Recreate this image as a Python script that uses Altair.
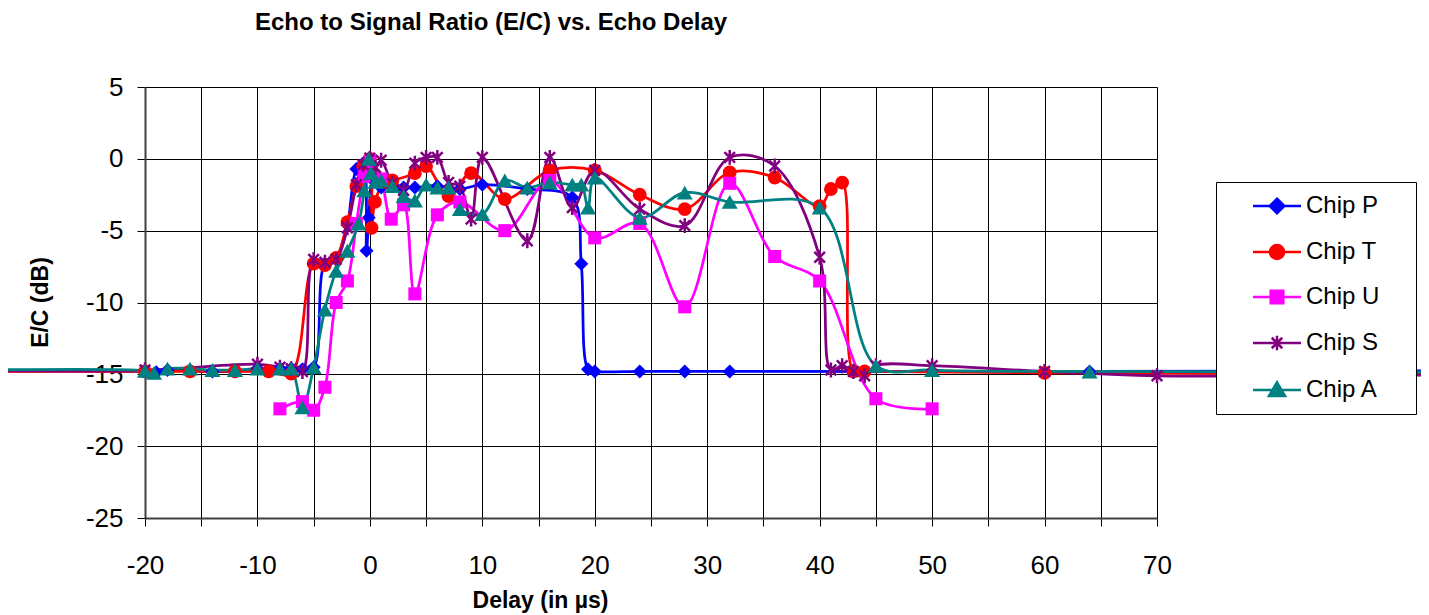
import altair as alt
import pandas as pd

series_names = ["Chip P", "Chip T", "Chip U", "Chip S", "Chip A"]
series_colors = ["#0000FF", "#FF0000", "#FF00FF", "#800080", "#008080"]

# Chip P
p_x = [-40, -20, -19, -18, -16, -14, -12, -10, -8, -7, -6, -5, -4, -3, -2, -1.2, -0.6, -0.3, -0.1,
       0.3, 1, 2, 3, 4, 6, 8, 10, 14, 18, 18.8, 19.4, 20, 24, 28, 32, 64, 100]
p_y = [-14.8, -14.8, -14.85, -14.7, -14.75, -14.8, -14.8, -14.6, -14.6, -14.6, -14.65, -14.5, -7.3, -7.0, -4.6,
       -0.7, -0.3, -6.4, -4.1, -1.5, -2.0, -1.8, -2.0, -2.0, -1.9, -2.1, -1.8, -2.1, -2.7, -7.3, -14.65,
       -14.8, -14.8, -14.8, -14.8, -14.8, -14.75]
# Chip T
t_x = [-40, -20, -16, -12, -9, -7, -5, -4, -3, -2, -1.2, -0.6, 0, 0.15, 0.45, 1.3, 2, 4, 5, 7, 9, 12,
       16, 20, 24, 28, 32, 36, 40, 41, 42, 43, 44, 60, 100]
t_y = [-14.8, -14.8, -14.8, -14.8, -14.8, -14.95, -7.3, -7.4, -6.9, -4.4, -1.9, -0.5, 0.0, -4.8, -3.0,
       -1.6, -1.5, -1.0, -0.5, -2.6, -1.0, -2.8, -0.8, -0.8, -2.5, -3.5, -0.95, -1.3, -3.3, -2.1, -1.65,
       -14.8, -14.8, -14.9, -15.0]
# Chip U
u_x = [-8, -6, -5, -4, -3, -2, -1.2, -0.5, 0, 1, 1.9, 3, 4, 6, 8, 12, 16, 20, 24, 28, 32, 36, 40, 45, 50]
u_y = [-17.4, -16.9, -17.5, -15.9, -10.0, -8.5, -4.5, -1.2, -0.2, -1.4, -4.2, -3.2, -9.4, -3.9, -3.0,
       -5.0, -1.5, -5.5, -4.5, -10.3, -1.7, -6.8, -8.5, -16.7, -17.4]
# Chip S
s_x = [-40, -20, -10, -8, -7, -6, -5, -4, -3, -2, -1.2, -0.6, 0, 0.5, 1, 2, 3, 4, 5, 6, 7, 8, 9, 10,
       14, 16, 18, 20, 24, 28, 32, 36, 40, 41, 42, 43, 44, 45, 50, 60, 70, 100]
s_y = [-14.7, -14.7, -14.3, -14.5, -14.6, -14.8, -7.0, -7.2, -7.0, -4.8, -1.8, -0.4, 0.05, -0.6, -0.1,
       -1.7, -2.2, -0.3, 0.1, 0.1, -1.65, -1.9, -4.2, 0.1, -5.7, 0.1, -3.4, -0.8, -3.5, -4.65, 0.1,
       -0.5, -6.85, -14.7, -14.4, -14.8, -15.1, -14.4, -14.4, -14.8, -15.1, -15.0]
# Chip A
a_x = [-40, -20, -19.2, -18, -16, -14, -12, -10, -8, -7, -6, -5, -4, -3, -2, -1, -0.5, -0.1, 0.1, 0.5,
       1, 2, 3, 4, 5, 6, 7, 8, 10, 12, 14, 16, 18, 18.8, 19.4, 20, 24, 28, 32, 40, 45, 50, 64, 100]
a_y = [-14.75, -14.75, -14.9, -14.6, -14.6, -14.7, -14.7, -14.6, -14.6, -14.6, -17.3, -14.5, -10.5,
       -7.8, -6.4, -4.5, -2.2, 0.0, -1.0, -1.6, -1.5, -1.9, -2.6, -2.9, -1.8, -2.0, -2.0, -3.5, -3.85,
       -1.5, -2.0, -1.65, -1.8, -1.8, -3.4, -1.3, -4.1, -2.35, -3.0, -3.4, -14.4, -14.7, -14.8, -14.85]

x_ticks = list(range(-20, 71, 5))
y_ticks = list(range(-25, 6, 5))

rows = []
for name, xs, ys in zip(series_names, [p_x, t_x, u_x, s_x, a_x], [p_y, t_y, u_y, s_y, a_y]):
    for xv, yv in zip(xs, ys):
        rows.append({"series": name, "delay": xv, "ec": yv})
df = pd.DataFrame(rows)

FONT = "Liberation Sans, Arial, sans-serif"

x_scale = alt.Scale(domain=[-20, 70], nice=False, zero=False)
y_scale = alt.Scale(domain=[-25, 5], nice=False, zero=False)
color_scale = alt.Scale(domain=series_names, range=series_colors)

x_axis = alt.Axis(
    values=x_ticks, labelExpr="datum.value % 10 === 0 ? '' + datum.value : ''",
    title="Delay (in µs)", titleFontSize=23, titleFontWeight="bold", titleFont=FONT,
    titleColor="black", titleX=395, titleY=89, titleBaseline="alphabetic", titleAlign="center",
    labelFontSize=26, labelFont=FONT, labelColor="black", labelPadding=26, labelFlush=False,
    labelOverlap=False, tickSize=8, tickColor="black", tickWidth=1,
    domainColor="#404040", domainWidth=2, grid=True, gridColor="black", gridWidth=1, gridOpacity=1,
)
y_axis = alt.Axis(
    values=y_ticks, labelExpr="'' + datum.value",
    title="E/C (dB)", titleFontSize=23, titleFontWeight="bold", titleFont=FONT,
    titleColor="black", titleX=-105, titleY=215, titleAngle=270, titleBaseline="middle",
    titleAlign="center",
    labelFontSize=26, labelFont=FONT, labelColor="black", labelPadding=14, labelFlush=False,
    labelOverlap=False, tickSize=8, tickColor="black", tickWidth=1,
    domainColor="#404040", domainWidth=2, grid=True, gridColor="black", gridWidth=1, gridOpacity=1,
)

X = alt.X("delay:Q", scale=x_scale, axis=x_axis)
Y = alt.Y("ec:Q", scale=y_scale, axis=y_axis)

line_layers = []
for name, col in zip(series_names, series_colors):
    line_layers.append(
        alt.Chart(df).mark_line(interpolate="catmull-rom", strokeWidth=2.75, color=col)
        .transform_filter(alt.datum.series == name)
        .encode(x=X, y=Y)
    )

asterisk = "M-0.75,-0.75L0.75,0.75M-0.75,0.75L0.75,-0.75M0,-1.05L0,1.05"
point_shapes = ["diamond", "circle", "square", asterisk, "triangle-up"]
point_sizes = [196, 190, 170, 200, 256]

point_layers = []
for name, col, shp, sz in zip(series_names, series_colors, point_shapes, point_sizes):
    if shp == asterisk:
        mk = alt.Chart(df).mark_point(shape=shp, filled=False, stroke=col, strokeWidth=2.5,
                                      size=sz, opacity=1)
    else:
        mk = alt.Chart(df).mark_point(shape=shp, filled=True, color=col, size=sz, opacity=1)
    layer = mk.transform_filter(
        (alt.datum.series == name) & (alt.datum.delay >= -20) & (alt.datum.delay <= 70)
    ).encode(x=X, y=Y)
    point_layers.append(layer)

seg = "M-3.43,0L3.43,0"
legend_paths = [
    seg + "M0,-1.05L1.05,0L0,1.05L-1.05,0Z",
    seg + "M1,0A1,1,0,1,1,-1,0A1,1,0,1,1,1,0Z",
    seg + "M-0.9,-0.9L0.9,-0.9L0.9,0.9L-0.9,0.9Z",
    seg + "M-0.75,-0.75L0.75,0.75M-0.75,0.75L0.75,-0.75M0,-1.05L0,1.05",
    seg + "M0,-1.1L1.15,0.85L-1.15,0.85Z",
]

leg = alt.Legend(
    title=None, orient="none", legendX=1071, legendY=95, fillColor="white", strokeColor="black",
    padding=12, labelFontSize=24, labelFont=FONT, labelColor="black", symbolSize=196,
    symbolStrokeWidth=2.5, labelOffset=17, symbolOffset=37, rowPadding=21, symbolOpacity=1,
    labelLimit=400, labelExpr="datum.label + '\u2005\u2800'",
)
legend_df = pd.DataFrame({"series": series_names})
legend_layer = alt.Chart(legend_df).mark_point(filled=True, opacity=0, size=196).encode(
    color=alt.Color("series:N", scale=color_scale, legend=leg),
    stroke=alt.Stroke("series:N", scale=color_scale, legend=leg),
    shape=alt.Shape("series:N", scale=alt.Scale(domain=series_names, range=legend_paths), legend=leg),
)

chart = alt.layer(*line_layers, *point_layers, legend_layer).properties(
    width=1012, height=431,
    autosize=alt.AutoSizeParams(type="none"),
    padding={"left": 137, "top": 79, "right": 264, "bottom": 97},
    title=alt.TitleParams(
        "Echo to Signal Ratio (E/C) vs. Echo Delay", fontSize=24, fontWeight="bold", font=FONT,
        color="black", anchor="start", dx=110, offset=39, frame="group",
    ),
).configure_view(stroke="#808080", strokeWidth=2).configure(background="white")

chart.save("out.html", embed_options={"renderer": "svg", "actions": False})
